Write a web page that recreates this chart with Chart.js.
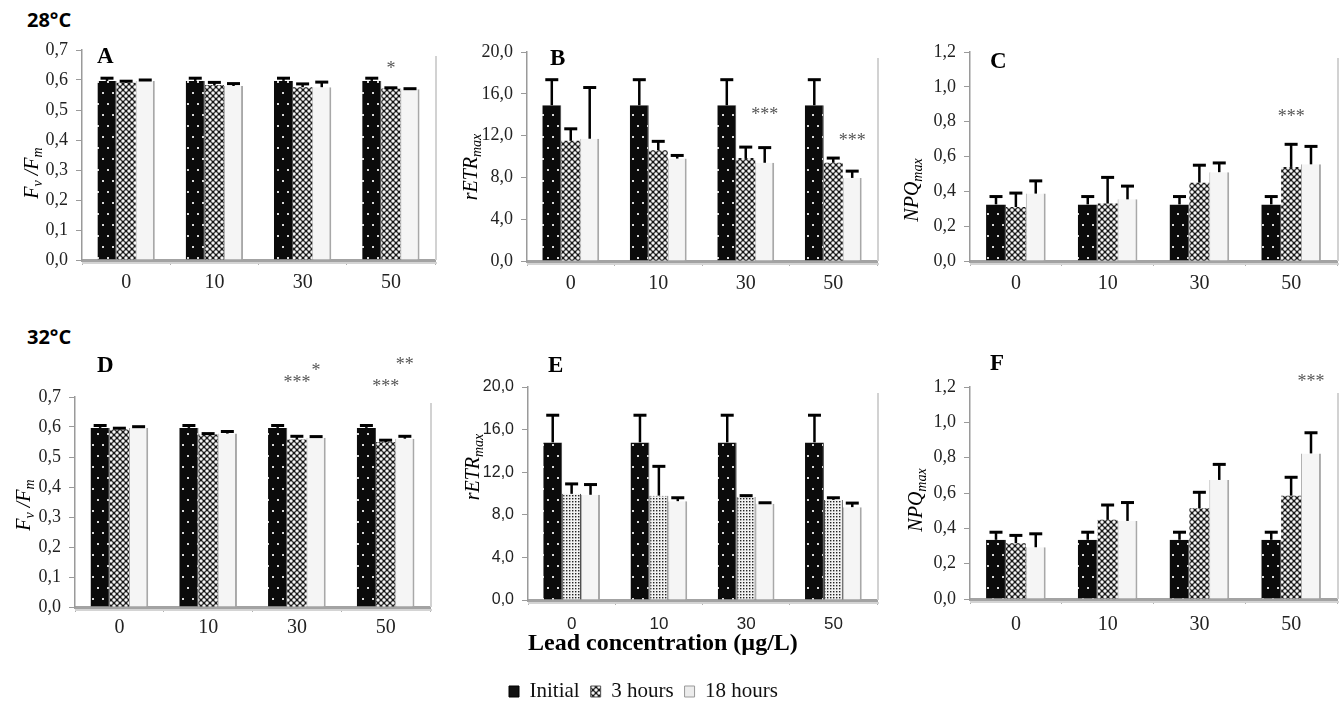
<!DOCTYPE html>
<html><head><meta charset="utf-8">
<script src="https://cdn.jsdelivr.net/npm/chart.js@4.4.1/dist/chart.umd.min.js"></script>
<style>
html,body{margin:0;padding:0;background:#fff;width:1340px;height:704px;overflow:hidden;position:relative}
canvas{position:absolute}
.temp{position:absolute;font:bold 20px "Open Sans",sans-serif;color:#000;line-height:20px;white-space:nowrap}
</style></head><body>
<div class="temp" style="left:27px;top:10px">28°C</div>
<div class="temp" style="left:27px;top:327px">32°C</div>
<canvas id="cA"></canvas><canvas id="cB"></canvas><canvas id="cC"></canvas>
<canvas id="cD"></canvas><canvas id="cF"></canvas><canvas id="cE"></canvas>
<script>
// ---------------- DATA ----------------
const categories = ['0', '10', '30', '50'];
const seriesLabels = ['Initial', '3 hours', '18 hours'];
const xAxisTitle = 'Lead concentration (µg/L)';

// axis ranges [min, max, step]
const fvfmRange = [0, 0.7, 0.1];
const etrRange  = [0, 20, 4];
const npqRange  = [0, 1.2, 0.2];

// A: Fv/Fm 28°C
const fvfm28Initial = [0.597, 0.597, 0.597, 0.597];
const fvfm28H3      = [0.591, 0.583, 0.576, 0.572];
const fvfm28H18     = [0.597, 0.580, 0.576, 0.569];
const fvfm28InitialErr = [0.009, 0.009, 0.009, 0.009];
const fvfm28H3Err      = [0.005, 0.009, 0.011, 0.002];
const fvfm28H18Err     = [0.003, 0.008, 0.017, 0.002];

// B: rETRmax 28°C
const etr28Initial = [14.9, 14.9, 14.9, 14.9];
const etr28H3      = [11.5, 10.6, 9.85, 9.4];
const etr28H18     = [11.7, 9.8, 9.4, 7.95];
const etr28InitialErr = [2.45, 2.45, 2.45, 2.45];
const etr28H3Err      = [1.15, 0.85, 1.05, 0.45];
const etr28H18Err     = [4.9, 0.3, 1.45, 0.65];

// C: NPQmax 28°C
const npq28Initial = [0.325, 0.325, 0.325, 0.325];
const npq28H3      = [0.31, 0.33, 0.45, 0.54];
const npq28H18     = [0.387, 0.354, 0.51, 0.555];
const npq28InitialErr = [0.045, 0.045, 0.045, 0.045];
const npq28H3Err      = [0.08, 0.15, 0.10, 0.13];
const npq28H18Err     = [0.073, 0.076, 0.053, 0.103];

// D: Fv/Fm 32°C
const fvfm32Initial = [0.597, 0.597, 0.597, 0.597];
const fvfm32H3      = [0.592, 0.575, 0.558, 0.550];
const fvfm32H18     = [0.597, 0.578, 0.564, 0.561];
const fvfm32InitialErr = [0.008, 0.008, 0.008, 0.008];
const fvfm32H3Err      = [0.004, 0.003, 0.011, 0.006];
const fvfm32H18Err     = [0.004, 0.007, 0.004, 0.008];

// E: rETRmax 32°C
const etr32Initial = [14.8, 14.8, 14.8, 14.8];
const etr32H3      = [9.97, 9.8, 9.66, 9.4];
const etr32H18     = [9.88, 9.28, 9.03, 8.72];
const etr32InitialErr = [2.55, 2.55, 2.55, 2.55];
const etr32H3Err      = [0.93, 2.75, 0.14, 0.2];
const etr32H18Err     = [0.96, 0.32, 0.1, 0.38];

// F: NPQmax 32°C
const npq32Initial = [0.335, 0.335, 0.335, 0.335];
const npq32H3      = [0.316, 0.448, 0.514, 0.585];
const npq32H18     = [0.293, 0.442, 0.674, 0.824];
const npq32InitialErr = [0.043, 0.043, 0.043, 0.043];
const npq32H3Err      = [0.044, 0.084, 0.09, 0.104];
const npq32H18Err     = [0.076, 0.104, 0.088, 0.117];

// significance marks: category index, series index, value position, text
const starsA = [{cat: 3, series: 1, value: 0.65, text: '*'}];
const starsB = [{cat: 2, series: 2, value: 14.35, text: '***'}, {cat: 3, series: 2, value: 11.87, text: '***'}];
const starsC = [{cat: 3, series: 1, value: 0.85, text: '***'}];
const starsD = [{cat: 2, series: 1, value: 0.76, text: '***'}, {cat: 2, series: 2, value: 0.80, text: '*'},
                {cat: 3, series: 1, value: 0.747, text: '***'}, {cat: 3, series: 2, value: 0.82, text: '**'}];
const starsE = [];
const starsF = [{cat: 3, series: 2, value: 1.25, text: '***'}];

// ---------------- STYLE / LAYOUT ----------------
const SERIF = '"Liberation Serif", "Times New Roman", serif';
const SANS = '"Liberation Sans", Arial, sans-serif';
const fvfmTitle = [['F', 0], ['v', 1], [' /', 0], ['F', 0], ['m', 1]];
const etrTitle = [['rETR', 0], ['max', 1]];
const npqTitle = [['NPQ', 0], ['max', 1]];

const panels = [
  {id: 'cA', letter: 'A', box: [0, 0, 440, 300], pad: {left: 0, top: 50, right: 5, bottom: 0}, yW: 82, xH: 40, xPad: 6,
   range: fvfmRange, series: [fvfm28Initial, fvfm28H3, fvfm28H18], errors: [fvfm28InitialErr, fvfm28H3Err, fvfm28H18Err],
   stars: starsA, ytitle: fvfmTitle, titlePos: [32, 173], letterPos: [97, 57]},
  {id: 'cB', letter: 'B', box: [440, 0, 440, 300], pad: {left: 0, top: 52, right: 3, bottom: 0}, yW: 87, xH: 39, xPad: 6,
   range: etrRange, series: [etr28Initial, etr28H3, etr28H18], errors: [etr28InitialErr, etr28H3Err, etr28H18Err],
   stars: starsB, ytitle: etrTitle, titlePos: [471, 167], letterPos: [550, 59]},
  {id: 'cC', letter: 'C', box: [880, 0, 460, 300], pad: {left: 0, top: 52, right: 3, bottom: 0}, yW: 90, xH: 39, xPad: 6,
   range: npqRange, series: [npq28Initial, npq28H3, npq28H18], errors: [npq28InitialErr, npq28H3Err, npq28H18Err],
   stars: starsC, ytitle: npqTitle, titlePos: [912, 190], letterPos: [990, 62]},
  {id: 'cD', letter: 'D', box: [0, 330, 440, 330], pad: {left: 0, top: 67, right: 10, bottom: 0}, yW: 75, xH: 53, xPad: 4,
   range: fvfmRange, series: [fvfm32Initial, fvfm32H3, fvfm32H18], errors: [fvfm32InitialErr, fvfm32H3Err, fvfm32H18Err],
   stars: starsD, ytitle: fvfmTitle, titlePos: [24, 505], letterPos: [97, 366]},
  {id: 'cF', letter: 'F', box: [880, 330, 460, 330], pad: {left: 0, top: 57, right: 3, bottom: 0}, yW: 90, xH: 61, xPad: 9,
   range: npqRange, series: [npq32Initial, npq32H3, npq32H18], errors: [npq32InitialErr, npq32H3Err, npq32H18Err],
   stars: starsF, ytitle: npqTitle, titlePos: [916, 500], letterPos: [990, 364]},
  {id: 'cE', letter: 'E', box: [410, 330, 470, 382], pad: {left: 0, top: 57, right: 3, bottom: 0}, yW: 118, xH: 70, xPad: 9,
   range: etrRange, series: [etr32Initial, etr32H3, etr32H18], errors: [etr32InitialErr, etr32H3Err, etr32H18Err],
   stars: starsE, ytitle: etrTitle, titlePos: [473, 467], letterPos: [548, 366], fine: true, legend: true, xTitle: true,
   tickFamily: SANS, yTickSize: 16, xTickSize: 17}
];

function dotPattern(ctx) {
  const c = document.createElement('canvas'); c.width = 10; c.height = 22;
  const g = c.getContext('2d');
  g.fillStyle = '#0b0b0b'; g.fillRect(0, 0, 10, 22);
  g.fillStyle = '#d8d8d8'; g.fillRect(2, 4, 2, 2); g.fillRect(7, 15, 2, 2);
  return ctx.createPattern(c, 'repeat');
}
function meshPattern(ctx) {
  const c = document.createElement('canvas'); c.width = 6; c.height = 6;
  const g = c.getContext('2d');
  g.fillStyle = '#161616'; g.fillRect(0, 0, 6, 6);
  g.fillStyle = '#f4f4f4';
  [[3, 3], [0, 0], [6, 0], [0, 6], [6, 6]].forEach(([x, y]) => { g.beginPath(); g.arc(x, y, 1.75, 0, Math.PI * 2); g.fill(); });
  return ctx.createPattern(c, 'repeat');
}
function finePattern(ctx) {
  const c = document.createElement('canvas'); c.width = 3; c.height = 3;
  const g = c.getContext('2d');
  g.fillStyle = '#f2f2f2'; g.fillRect(0, 0, 3, 3);
  g.fillStyle = '#222'; g.fillRect(0, 0, 1.4, 1.4);
  return ctx.createPattern(c, 'repeat');
}

const deco = {
  id: 'deco',
  beforeDatasetsDraw(chart) {
    const {ctx, chartArea: a} = chart;
    ctx.save();
    ctx.strokeStyle = '#d2d2d2'; ctx.lineWidth = 2;
    ctx.beginPath(); ctx.moveTo(a.right + 1, a.top + 6); ctx.lineTo(a.right + 1, a.bottom); ctx.stroke();
    ctx.restore();
  },
  afterDatasetsDraw(chart) {
    const {ctx} = chart;
    const y = chart.scales.y;
    ctx.save();
    ctx.strokeStyle = '#000';
    chart.data.datasets.forEach((ds, i) => {
      const meta = chart.getDatasetMeta(i);
      meta.data.forEach((bar, j) => {
        const top = y.getPixelForValue(ds.data[j] + ds.errorPlus[j]);
        const base = y.getPixelForValue(ds.data[j]);
        ctx.lineWidth = 2.5;
        ctx.beginPath(); ctx.moveTo(bar.x, base); ctx.lineTo(bar.x, top); ctx.stroke();
        ctx.lineWidth = 3;
        ctx.beginPath(); ctx.moveTo(bar.x - 6.5, top); ctx.lineTo(bar.x + 6.5, top); ctx.stroke();
      });
    });
    ctx.restore();
  },
  afterDraw(chart) {
    const {ctx, chartArea: a} = chart;
    const p = chart.options.plugins.deco;
    ctx.save();
    // x-axis shadow
    ctx.strokeStyle = '#d4d4d4'; ctx.lineWidth = 2;
    ctx.beginPath(); ctx.moveTo(a.left, a.bottom + 3); ctx.lineTo(a.right + 2, a.bottom + 3); ctx.stroke();
    // panel letter
    ctx.fillStyle = '#000';
    ctx.font = 'bold 23px ' + SERIF;
    ctx.textAlign = 'left'; ctx.textBaseline = 'middle';
    ctx.fillText(p.letter, p.letterPos[0] - p.box[0], p.letterPos[1] - p.box[1]);
    // y title with subscripts (rotated)
    const mainFont = 'italic 20px ' + SERIF, subFont = 'italic 14px ' + SERIF;
    ctx.save();
    ctx.translate(p.titlePos[0] - p.box[0], p.titlePos[1] - p.box[1]);
    ctx.rotate(-Math.PI / 2);
    let total = 0;
    p.ytitle.forEach(s => { ctx.font = s[1] ? subFont : mainFont; total += ctx.measureText(s[0]).width; });
    let x = -total / 2;
    ctx.textBaseline = 'alphabetic'; ctx.textAlign = 'left';
    p.ytitle.forEach(s => {
      ctx.font = s[1] ? subFont : mainFont;
      ctx.fillText(s[0], x, s[1] ? 10 : 6);
      x += ctx.measureText(s[0]).width;
    });
    ctx.restore();
    // significance stars
    ctx.fillStyle = '#555';
    ctx.font = '18px ' + SERIF;
    ctx.textAlign = 'center'; ctx.textBaseline = 'middle';
    p.stars.forEach(s => {
      const bar = chart.getDatasetMeta(s.series).data[s.cat];
      ctx.fillText(s.text, bar.x, chart.scales.y.getPixelForValue(s.value) + 4);
    });
    ctx.restore();
  }
};

function makeChart(p) {
  const cv = document.getElementById(p.id);
  cv.style.left = p.box[0] + 'px'; cv.style.top = p.box[1] + 'px';
  cv.width = p.box[2]; cv.height = p.box[3];
  const ctx = cv.getContext('2d');
  const fills = [dotPattern(ctx), p.fine ? finePattern(ctx) : meshPattern(ctx), '#f5f5f5'];
  const legendFills = ['#111', meshPattern(ctx), '#ececec'];
  const tickFamily = p.tickFamily || SERIF;
  const datasets = p.series.map((vals, i) => ({
    label: seriesLabels[i], data: vals, errorPlus: p.errors[i],
    backgroundColor: fills[i],
    borderColor: ['#444', '#333', '#a8a8a8'][i],
    borderWidth: [{right: 1}, p.fine ? {left: 1, right: 1} : 0, {left: 1, right: 2}][i],
    borderSkipped: 'start',
    categoryPercentage: 0.65, barPercentage: 1
  }));
  new Chart(ctx, {
    type: 'bar',
    data: {labels: categories, datasets},
    options: {
      responsive: false, animation: false, devicePixelRatio: 1,
      layout: {padding: p.pad},
      plugins: {
        deco: p,
        tooltip: {enabled: false},
        legend: p.legend ? {
          display: true, position: 'bottom', align: 'center',
          labels: {
            boxWidth: 10, boxHeight: 11, padding: 11, color: '#111',
            font: {family: SERIF, size: 21},
            generateLabels: (chart) => chart.data.datasets.map((d, i) => ({
              text: d.label, fillStyle: legendFills[i], strokeStyle: ['#000', '#555', '#999'][i],
              lineWidth: 1, datasetIndex: i, hidden: false, fontColor: '#111'
            }))
          }
        } : {display: false}
      },
      scales: {
        x: {
          grid: {offset: true, drawOnChartArea: false, drawTicks: true, tickLength: 5, color: '#b0b0b0'},
          border: {display: true, color: '#a3a3a3', width: 3},
          ticks: {font: {family: tickFamily, size: p.xTickSize || 20}, color: '#222', padding: p.xPad, maxRotation: 0},
          title: p.xTitle ? {display: true, text: xAxisTitle, align: 'start', color: '#000',
            font: {family: SERIF, size: 24, weight: 'bold'}, padding: {top: 0, bottom: 12}} : {display: false},
          afterFit: (s) => { s.height = p.xH; }
        },
        y: {
          min: p.range[0], max: p.range[1],
          ticks: {stepSize: p.range[2], font: {family: tickFamily, size: p.yTickSize || 18}, color: '#222', padding: 8,
                  callback: (v) => Number(v).toFixed(1).replace('.', ',')},
          grid: {drawOnChartArea: false, drawTicks: true, tickLength: 6, color: '#9a9a9a'},
          border: {display: true, color: '#9a9a9a', width: 1.5},
          afterFit: (s) => { s.width = p.yW; }
        }
      }
    },
    plugins: [deco]
  });
}
panels.forEach(makeChart);
</script>
</body></html>
